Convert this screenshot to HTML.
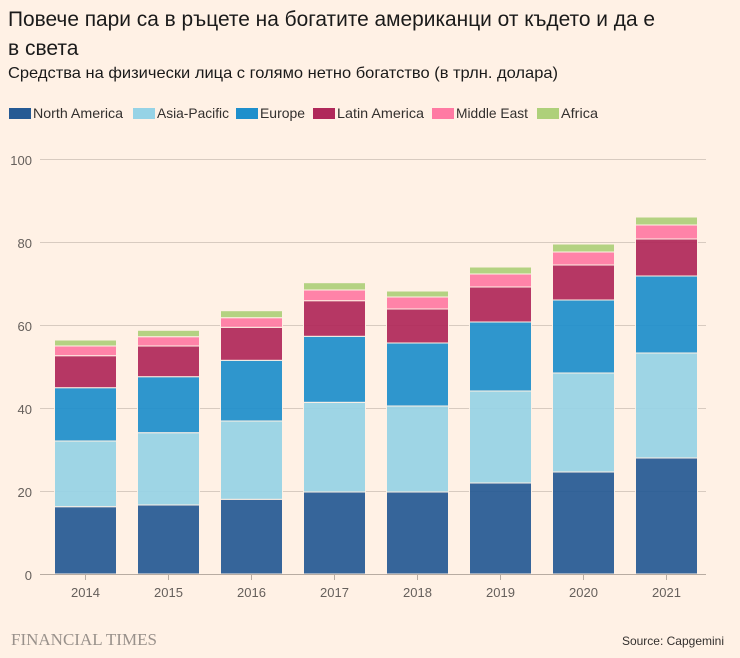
<!DOCTYPE html>
<html><head><meta charset="utf-8"><style>
html,body{margin:0;padding:0;background:#fff1e5;}
body{width:740px;height:653px;overflow:hidden;font-family:"Liberation Sans","Noto Sans CJK SC",sans-serif;}
</style></head><body>
<svg width="740" height="653" xmlns="http://www.w3.org/2000/svg" font-family="'Liberation Sans','Noto Sans CJK SC',sans-serif">
<rect width="740" height="653" fill="#fff1e5"/>
<text x="8" y="26" font-size="21" fill="#1a1a1a" textLength="647" lengthAdjust="spacingAndGlyphs">Повече пари са в ръцете на богатите американци от където и да е</text>
<text x="8" y="55" font-size="21" fill="#1a1a1a">в света</text>
<text x="8" y="78" font-size="16" fill="#1a1a1a" textLength="550" lengthAdjust="spacingAndGlyphs">Средства на физически лица с голямо нетно богатство (в трлн. долара)</text>
<g font-size="14" fill="#33302e">
<rect x="9" y="108" width="22" height="11" fill="#255a94"/><text x="33" y="118" textLength="90" lengthAdjust="spacingAndGlyphs">North America</text>
<rect x="133" y="108" width="22" height="11" fill="#96d3e6"/><text x="157" y="118" textLength="72" lengthAdjust="spacingAndGlyphs">Asia-Pacific</text>
<rect x="236" y="108" width="22" height="11" fill="#1e8fcc"/><text x="260" y="118" textLength="45" lengthAdjust="spacingAndGlyphs">Europe</text>
<rect x="313" y="108" width="22" height="11" fill="#b0285a"/><text x="337" y="118" textLength="87" lengthAdjust="spacingAndGlyphs">Latin America</text>
<rect x="432" y="108" width="22" height="11" fill="#ff7aa3"/><text x="456" y="118" textLength="72" lengthAdjust="spacingAndGlyphs">Middle East</text>
<rect x="537" y="108" width="22" height="11" fill="#aed07a"/><text x="561" y="118" textLength="37" lengthAdjust="spacingAndGlyphs">Africa</text>
</g>
<g stroke="#d8cbc0" stroke-width="1">
<line x1="40" x2="706" y1="159.5" y2="159.5"/>
<line x1="40" x2="706" y1="242.5" y2="242.5"/>
<line x1="40" x2="706" y1="325.5" y2="325.5"/>
<line x1="40" x2="706" y1="408.5" y2="408.5"/>
<line x1="40" x2="706" y1="491.5" y2="491.5"/>
</g>
<g font-size="13" fill="#66605c" text-anchor="end">
<text x="32" y="165">100</text><text x="32" y="248">80</text><text x="32" y="331">60</text>
<text x="32" y="414">40</text><text x="32" y="497">20</text><text x="32" y="580">0</text>
</g>
<g id="bars" stroke="#fff1e5" stroke-width="1" opacity="0.92"></g>
<line x1="40" x2="706" y1="574.5" y2="574.5" stroke="#b8aca2"/>
<g id="ticks" stroke="#b8aca2"></g>
<g id="xl" font-size="13" fill="#66605c" text-anchor="middle"></g>
<text x="11" y="645" font-family="'Liberation Serif',serif" font-size="17" fill="#99918b">FINANCIAL TIMES</text>
<text x="724" y="645" font-size="12" fill="#33302e" text-anchor="end">Source: Capgemini</text>
<script>
var d=[[506.7,441,387.7,355.7,346,340],[505,432.7,376.7,346,336.7,330.3],[499.3,421,360.3,327.3,317.7,310.7],[492,402.3,336.3,300.7,290,282.7],[492,406,343,309,297,291],[483,391,322,287,274,267],[472,373,300,265,252,244],[458,353,276,239,225,217]];
var c=["#255a94","#96d3e6","#1e8fcc","#b0285a","#ff7aa3","#aed07a"];
var ns="http://www.w3.org/2000/svg",b=document.getElementById("bars"),t=document.getElementById("ticks"),xl=document.getElementById("xl");
d.forEach(function(r,i){var cx=85.5+83*i,prev=574;
r.forEach(function(top,j){var e=document.createElementNS(ns,"rect");e.setAttribute("x",cx-31);e.setAttribute("width",62);e.setAttribute("y",top);e.setAttribute("height",prev-top);e.setAttribute("fill",c[j]);b.appendChild(e);prev=top;});
var l=document.createElementNS(ns,"line");l.setAttribute("x1",cx);l.setAttribute("x2",cx);l.setAttribute("y1",575);l.setAttribute("y2",580);t.appendChild(l);
var tx=document.createElementNS(ns,"text");tx.setAttribute("x",cx);tx.setAttribute("y",597);tx.textContent=2014+i;xl.appendChild(tx);});
</script>
</svg>
</body></html>
